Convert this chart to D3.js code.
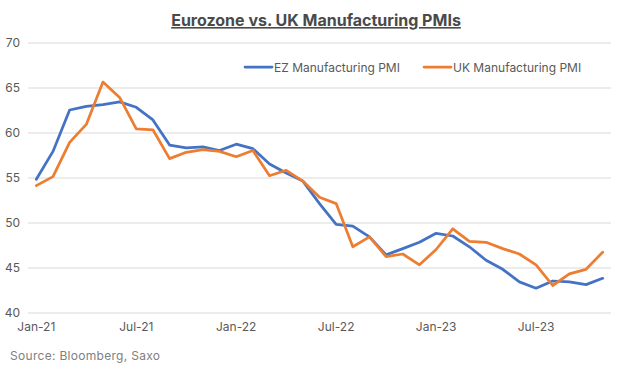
<!DOCTYPE html>
<html>
<head>
<meta charset="utf-8">
<script src="https://cdn.jsdelivr.net/npm/d3@7"></script>
<style>
  html, body { margin: 0; padding: 0; background: #fff; }
  svg { display: block; }
</style>
</head>
<body>
<svg id="chart" width="632" height="367"></svg>
<script>
// ---- data ----
const months = [
  "2021-01","2021-02","2021-03","2021-04","2021-05","2021-06","2021-07","2021-08","2021-09","2021-10","2021-11","2021-12",
  "2022-01","2022-02","2022-03","2022-04","2022-05","2022-06","2022-07","2022-08","2022-09","2022-10","2022-11","2022-12",
  "2023-01","2023-02","2023-03","2023-04","2023-05","2023-06","2023-07","2023-08","2023-09","2023-10","2023-11"
];
const ezPMI = [54.8,57.9,62.5,62.9,63.1,63.4,62.8,61.4,58.6,58.3,58.4,58.0,
               58.7,58.2,56.5,55.5,54.6,52.1,49.8,49.6,48.4,46.4,47.1,47.8,
               48.8,48.5,47.3,45.8,44.8,43.4,42.7,43.5,43.4,43.1,43.8];
const ukPMI = [54.1,55.1,58.9,60.9,65.6,63.9,60.4,60.3,57.1,57.8,58.1,57.9,
               57.3,58.0,55.2,55.8,54.6,52.8,52.1,47.3,48.4,46.2,46.5,45.3,
               47.0,49.3,47.9,47.8,47.1,46.5,45.3,43.0,44.3,44.8,46.7];
const seriesNames = ["EZ Manufacturing PMI","UK Manufacturing PMI"];
const xTickLabels = ["Jan-21","Jul-21","Jan-22","Jul-22","Jan-23","Jul-23"];
const xTickMonths = ["2021-01","2021-07","2022-01","2022-07","2023-01","2023-07"];
const yTicks = [40,45,50,55,60,65,70];

// ---- layout ----
const svg = d3.select("#chart");
const plotLeft = 28, plotRight = 611, plotTop = 42.5, plotBottom = 312.5;
const colors = ["#4472C4","#ED7D31"];
const textColor = "#595959";
const font = "Inter, 'Liberation Sans', Arial, sans-serif";

const x = d3.scaleBand().domain(months).range([plotLeft, plotRight]).padding(0);
const y = d3.scaleLinear().domain([40,70]).range([plotBottom, plotTop]);
const cx = m => x(m) + x.bandwidth()/2;

// title
svg.append("text")
  .attr("x", 316).attr("y", 26)
  .attr("text-anchor","middle")
  .attr("font-family",font)
  .attr("font-weight","bold")
  .attr("font-size","16px")
  .attr("fill","#4a4a4a")
  .attr("text-decoration","underline")
  .text("Eurozone vs. UK Manufacturing PMIs");

// gridlines + y axis
const yAxis = d3.axisLeft(y).tickValues(yTicks).tickSize(-(plotRight-plotLeft)).tickFormat(d3.format("d"));
const gy = svg.append("g").attr("transform",`translate(${plotLeft},0)`).call(yAxis);
gy.select(".domain").remove();
gy.selectAll(".tick line").attr("stroke","#d9d9d9").attr("stroke-width",1);
gy.selectAll(".tick text")
  .attr("x",-8).attr("fill",textColor)
  .attr("font-family",font).attr("font-size","12px");

// x axis
const xAxis = d3.axisBottom(x).tickValues(xTickMonths)
  .tickFormat(d => xTickLabels[xTickMonths.indexOf(d)]).tickSize(0);
const gx = svg.append("g").attr("transform",`translate(0,${plotBottom})`).call(xAxis);
gx.select(".domain").remove();
gx.selectAll(".tick text")
  .attr("y",10).attr("fill",textColor)
  .attr("font-family",font).attr("font-size","12px");

// lines
const line = d3.line().x((d,i) => cx(months[i])).y(d => y(d));
[ezPMI, ukPMI].forEach((s, k) => {
  svg.append("path")
    .datum(s)
    .attr("d", line)
    .attr("fill","none")
    .attr("stroke", colors[k])
    .attr("stroke-width", 2.75)
    .attr("stroke-linejoin","round")
    .attr("stroke-linecap","round");
});

// legend
const legendX = [245, 424];
seriesNames.forEach((n,k) => {
  const g = svg.append("g").attr("transform",`translate(${legendX[k]},67)`);
  g.append("line").attr("x1",0).attr("x2",27).attr("y1",0).attr("y2",0)
    .attr("stroke",colors[k]).attr("stroke-width",2.75).attr("stroke-linecap","round");
  g.append("text").attr("x",29).attr("y",4.5)
    .attr("fill",textColor).attr("font-family",font).attr("font-size","12px")
    .text(n);
});

// source
svg.append("text")
  .attr("x",10).attr("y",360)
  .attr("fill","#808080").attr("font-family",font).attr("font-size","12px")
  .attr("letter-spacing","0.3px")
  .text("Source: Bloomberg, Saxo");
</script>
</body>
</html>
